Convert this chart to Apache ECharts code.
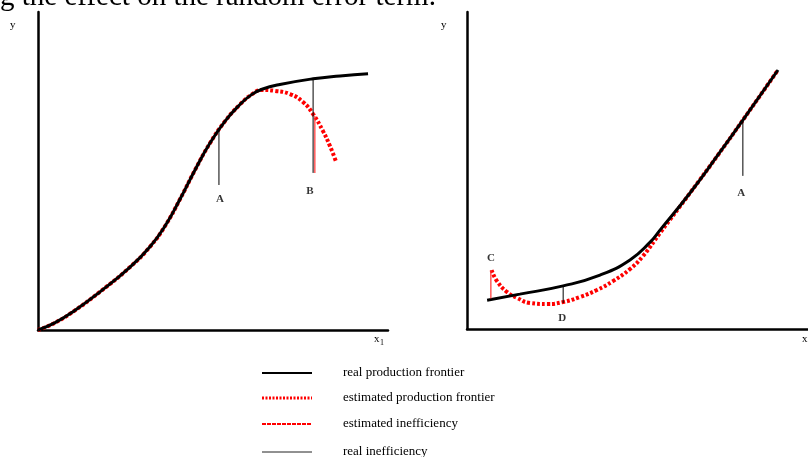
<!DOCTYPE html>
<html><head><meta charset="utf-8">
<script src="https://cdn.jsdelivr.net/npm/echarts@6/dist/echarts.min.js"></script>
<style>html,body{margin:0;padding:0;background:#fff}#c{width:808px;height:457px}</style>
</head><body><div id="c"></div>
<script>
// ---- Left panel data (x1, y) ----
const leftReal = [[0,0],[0.49,0.23],[1.06,0.62],[1.77,1.20],[2.63,1.98],[3.20,2.62],[3.63,3.27],[4.06,4.12],[4.49,5.04],[4.91,5.87],[5.34,6.56],[5.77,7.09],[6.11,7.41],[6.40,7.57],[6.91,7.72],[7.86,7.90],[8.63,7.99],[9.43,8.06]];
const leftEst = [[0,0],[0.49,0.23],[1.06,0.62],[1.77,1.20],[2.63,1.98],[3.20,2.62],[3.63,3.27],[4.06,4.12],[4.49,5.04],[4.91,5.87],[5.34,6.56],[5.77,7.09],[6.11,7.41],[6.40,7.55],[6.77,7.52],[7.20,7.42],[7.57,7.17],[7.86,6.79],[8.14,6.26],[8.34,5.79],[8.51,5.31]];
const leftRealIneffA = [[5.17,6.28],[5.17,4.56]];
const leftRealIneffB = [[7.86,7.90],[7.86,4.94]];
const leftEstIneffB = [[7.91,6.73],[7.91,4.94]];
const leftLabels = [{name:'A',value:[5.20,4.12]},{name:'B',value:[7.77,4.37]}];
// ---- Right panel data (x, y) ----
const rightReal = [[0.59,0.91],[1.55,1.10],[2.82,1.36],[3.90,1.70],[4.78,2.18],[5.37,2.74],[5.66,3.12],[6.54,4.29],[7.36,5.49],[8.09,6.59],[9.12,8.17]];
const rightEst = [[0.72,1.86],[0.88,1.51],[1.17,1.17],[1.47,0.98],[1.85,0.82],[2.35,0.79],[2.82,0.85],[3.31,1.01],[3.81,1.23],[4.28,1.51],[4.78,1.89],[5.16,2.30],[5.66,3.03],[6.54,4.29],[7.36,5.49],[8.09,6.59],[9.12,8.17]];
const rightEstIneffC = [[0.70,0.96],[0.70,1.86]];
const rightRealIneffD = [[2.82,1.36],[2.82,0.82]];
const rightRealIneffA = [[8.09,6.59],[8.09,4.83]];
const rightLabels = [{name:'C',value:[0.70,2.24]},{name:'D',value:[2.79,0.35]},{name:'A',value:[8.04,4.29]}];
// ---- Legend entries ----
const legendNames = ['real production frontier','estimated production frontier','estimated inefficiency','real inefficiency'];
const titleText = 'g the effect on the random error term.';

const serif = '"Liberation Serif","DejaVu Serif",serif';
const chart = echarts.init(document.getElementById('c'), null, {renderer:'canvas'});

function axis(){
  return {type:'value',min:0,max:10,axisLine:{show:true,onZero:false,lineStyle:{color:'#000',width:2.5}},axisTick:{show:false},axisLabel:{show:false},splitLine:{show:false}};
}
const realStyle = {color:'#000',width:3};
const estStyle = {color:'#ff0000',width:4,type:[3,2]};
function line(data, gi, style, z, smooth){
  return {type:'line',xAxisIndex:gi,yAxisIndex:gi,data:data,showSymbol:false,symbol:'none',smooth:smooth?0.5:false,lineStyle:style,z:z,silent:true};
}
function labels(data, gi){
  return {type:'scatter',xAxisIndex:gi,yAxisIndex:gi,data:data,symbolSize:0,z:10,
    label:{show:true,position:'inside',formatter:'{b}',color:'#000',fontFamily:serif,fontWeight:'bold',fontSize:11}};
}

const legendStyles = [
  {stroke:'#000',lineWidth:2},
  {stroke:'#ff0000',lineWidth:3,lineDash:[2,1.5]},
  {stroke:'#ff0000',lineWidth:2,lineDash:[4,1]},
  {stroke:'#222',lineWidth:1}
];
const legendYs = [373,398,424,452];
const graphics = [
  {type:'text',left:0,top:-17,style:{text:titleText,font:'29px '+serif,fill:'#000'}},
  {type:'text',left:10,top:20,style:{text:'y',font:'11px '+serif,fill:'#000'}},
  {type:'text',left:441,top:20,style:{text:'y',font:'11px '+serif,fill:'#000'}},
  {type:'text',left:374,top:334,style:{text:'x',font:'11px '+serif,fill:'#000'}},
  {type:'text',left:380,top:339,style:{text:'1',font:'8px '+serif,fill:'#000'}},
  {type:'text',left:802,top:334,style:{text:'x',font:'11px '+serif,fill:'#000'}}
];
legendNames.forEach((n,i)=>{
  graphics.push({type:'line',shape:{x1:262,y1:legendYs[i],x2:312,y2:legendYs[i]},style:legendStyles[i]});
  graphics.push({type:'text',x:343,y:legendYs[i],style:{text:n,font:'13px '+serif,fill:'#000',verticalAlign:'middle'}});
});

chart.setOption({
  animation:false,
  grid:[{left:38,top:12,width:350,height:318},{left:467,top:12,width:341,height:317}],
  xAxis:[Object.assign(axis(),{gridIndex:0}),Object.assign(axis(),{gridIndex:1})],
  yAxis:[Object.assign(axis(),{gridIndex:0}),Object.assign(axis(),{gridIndex:1})],
  series:[
    line(leftEst,0,estStyle,2,true),
    line(leftReal,0,realStyle,3,true),
    line(leftRealIneffA,0,{color:'#000',width:1},4,false),
    line(leftRealIneffB,0,{color:'#000',width:1},4,false),
    line(leftEstIneffB,0,{color:'#ff3030',width:1.2},4,false),
    labels(leftLabels,0),
    line(rightEst,1,estStyle,2,true),
    line(rightReal,1,realStyle,3,true),
    line(rightEstIneffC,1,{color:'#ff3030',width:1.2},4,false),
    line(rightRealIneffD,1,{color:'#000',width:1},4,false),
    line(rightRealIneffA,1,{color:'#000',width:1},4,false),
    labels(rightLabels,1)
  ],
  graphic:graphics
});
</script></body></html>
